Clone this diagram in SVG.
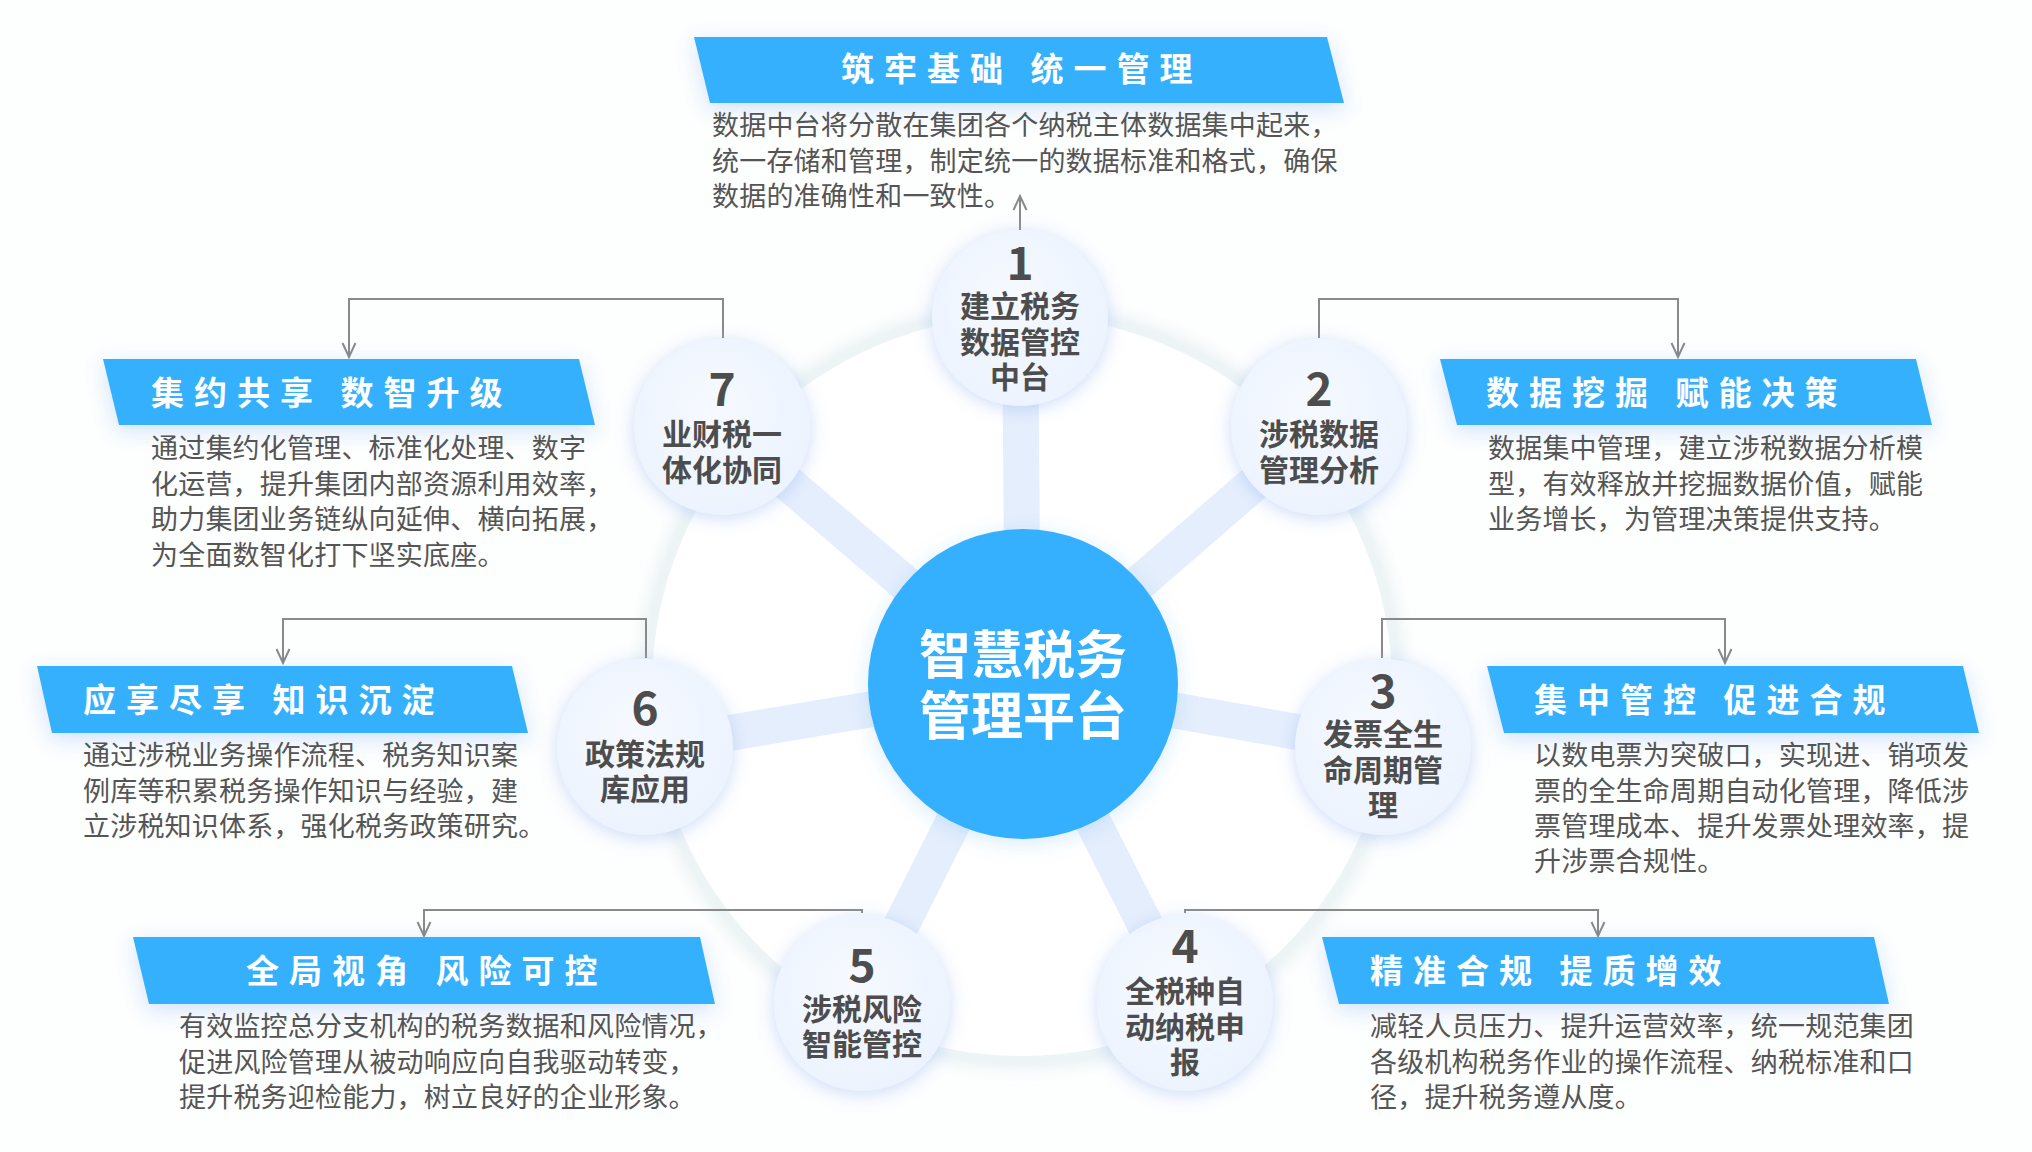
<svg xmlns="http://www.w3.org/2000/svg" width="2032" height="1152" viewBox="0 0 2032 1152">
<defs>
<style>
text{font-family:"Noto Sans CJK SC","Noto Sans",sans-serif;}
.ttl{font-size:33px;font-weight:700;fill:#ffffff;letter-spacing:10px;}
.dsc{font-size:27px;fill:#555555;letter-spacing:0.2px;}
.num{font-size:46px;font-weight:700;fill:#4d4d4d;text-anchor:middle;}
.lbl{font-size:30px;font-weight:700;fill:#4d4d4d;text-anchor:middle;}
.ctr{font-size:52px;font-weight:700;fill:#ffffff;text-anchor:middle;}
.ban{fill:#36b0fd;filter:url(#banShadow);}
.nd{fill:url(#nodeGrad);filter:url(#nodeShadow);}
.spk{stroke:#e5eefc;stroke-width:36;}
.con{fill:none;stroke:#8a8a8a;stroke-width:2;marker-end:url(#arr);}
</style>
<marker id="arr" viewBox="-16 -8 18 16" refX="0" refY="0" markerWidth="18" markerHeight="16" orient="auto" markerUnits="userSpaceOnUse">
<path d="M-14,-6.5 L0,0 L-14,6.5" fill="none" stroke="#8a8a8a" stroke-width="2"/>
</marker>
<radialGradient id="nodeGrad" cx="0.45" cy="0.4" r="0.65">
<stop offset="0" stop-color="#f6f9ff"/>
<stop offset="1" stop-color="#ebf3fe"/>
</radialGradient>
<filter id="nodeShadow" x="-40%" y="-40%" width="180%" height="180%">
<feDropShadow dx="0" dy="3" stdDeviation="9" flood-color="#8fb2f2" flood-opacity="0.45"/>
</filter>
<filter id="banShadow" x="-20%" y="-60%" width="140%" height="240%">
<feDropShadow dx="0" dy="6" stdDeviation="10" flood-color="#3a7ff0" flood-opacity="0.22"/>
</filter>
<filter id="ringBlur" x="-20%" y="-20%" width="140%" height="140%">
<feGaussianBlur stdDeviation="8"/>
</filter>
<filter id="ctrShadow" x="-30%" y="-30%" width="160%" height="160%">
<feDropShadow dx="0" dy="4" stdDeviation="10" flood-color="#3a9cf0" flood-opacity="0.2"/>
</filter>
</defs>

<rect x="0" y="0" width="2032" height="1152" fill="#fdfefe"/>

<g id="ring">
<circle cx="1022" cy="686" r="374" fill="none" stroke="#e3eef0" stroke-width="14" filter="url(#ringBlur)"/>
<circle cx="1022" cy="686" r="370" fill="#ffffff"/>
</g>

<g id="spokes">
<line class="spk" x1="1023" y1="684" x2="1020" y2="318"/>
<line class="spk" x1="1023" y1="684" x2="1319" y2="427"/>
<line class="spk" x1="1023" y1="684" x2="1383" y2="747"/>
<line class="spk" x1="1023" y1="684" x2="1185" y2="1003"/>
<line class="spk" x1="1023" y1="684" x2="862" y2="1003"/>
<line class="spk" x1="1023" y1="684" x2="645" y2="747"/>
<line class="spk" x1="1023" y1="684" x2="722" y2="427"/>
</g>

<g id="connectors">
<path class="con" d="M1020,230 V196"/>
<path class="con" d="M1319,338 V299 H1678 V357"/>
<path class="con" d="M1382,658 V619 H1725 V663"/>
<path class="con" d="M1185,913 V910 H1598 V936"/>
<path class="con" d="M862,913 V910 H424 V936"/>
<path class="con" d="M646,658 V619 H283 V663"/>
<path class="con" d="M723,338 V299 H349 V357"/>
</g>

<g id="node-center">
<circle cx="1023" cy="684" r="155" fill="#35b0fe" filter="url(#ctrShadow)"/>
<text class="ctr" x="1023" y="674">智慧税务</text>
<text class="ctr" x="1023" y="735">管理平台</text>
</g>

<g id="node-1">
<circle class="nd" cx="1020" cy="318" r="88"/>
<text class="num" x="1020" y="280">1</text>
<text class="lbl" x="1020" y="317">建立税务</text>
<text class="lbl" x="1020" y="353">数据管控</text>
<text class="lbl" x="1020" y="388">中台</text>
</g>
<g id="node-2">
<circle class="nd" cx="1319" cy="427" r="88"/>
<text class="num" x="1319" y="406">2</text>
<text class="lbl" x="1319" y="445">涉税数据</text>
<text class="lbl" x="1319" y="481">管理分析</text>
</g>
<g id="node-3">
<circle class="nd" cx="1383" cy="747" r="88"/>
<text class="num" x="1383" y="708">3</text>
<text class="lbl" x="1383" y="745">发票全生</text>
<text class="lbl" x="1383" y="781">命周期管</text>
<text class="lbl" x="1383" y="816">理</text>
</g>
<g id="node-4">
<circle class="nd" cx="1185" cy="1003" r="88"/>
<text class="num" x="1185" y="963">4</text>
<text class="lbl" x="1185" y="1002">全税种自</text>
<text class="lbl" x="1185" y="1038">动纳税申</text>
<text class="lbl" x="1185" y="1073">报</text>
</g>
<g id="node-5">
<circle class="nd" cx="862" cy="1003" r="88"/>
<text class="num" x="862" y="982">5</text>
<text class="lbl" x="862" y="1020">涉税风险</text>
<text class="lbl" x="862" y="1055">智能管控</text>
</g>
<g id="node-6">
<circle class="nd" cx="645" cy="747" r="88"/>
<text class="num" x="645" y="725">6</text>
<text class="lbl" x="645" y="765">政策法规</text>
<text class="lbl" x="645" y="800">库应用</text>
</g>
<g id="node-7">
<circle class="nd" cx="722" cy="427" r="88"/>
<text class="num" x="722" y="406">7</text>
<text class="lbl" x="722" y="445">业财税一</text>
<text class="lbl" x="722" y="481">体化协同</text>
</g>

<g id="card-1">
<polygon class="ban" points="694,37 1327,37 1344,103 710,103"/>
<text class="ttl" x="841" y="81">筑牢基础 统一管理</text>
<text class="dsc" x="712" y="135">数据中台将分散在集团各个纳税主体数据集中起来，</text>
<text class="dsc" x="712" y="171">统一存储和管理，制定统一的数据标准和格式，确保</text>
<text class="dsc" x="712" y="206">数据的准确性和一致性。</text>
</g>
<g id="card-2">
<polygon class="ban" points="1440,359 1916,359 1932,425 1457,425"/>
<text class="ttl" x="1486" y="405">数据挖掘 赋能决策</text>
<text class="dsc" x="1488" y="458">数据集中管理，建立涉税数据分析模</text>
<text class="dsc" x="1488" y="494">型，有效释放并挖掘数据价值，赋能</text>
<text class="dsc" x="1488" y="529">业务增长，为管理决策提供支持。</text>
</g>
<g id="card-3">
<polygon class="ban" points="1487,666 1963,666 1979,733 1504,733"/>
<text class="ttl" x="1534" y="712">集中管控 促进合规</text>
<text class="dsc" x="1534" y="765">以数电票为突破口，实现进、销项发</text>
<text class="dsc" x="1534" y="801">票的全生命周期自动化管理，降低涉</text>
<text class="dsc" x="1534" y="836">票管理成本、提升发票处理效率，提</text>
<text class="dsc" x="1534" y="871">升涉票合规性。</text>
</g>
<g id="card-4">
<polygon class="ban" points="1322,937 1874,937 1889,1004 1339,1004"/>
<text class="ttl" x="1370" y="983">精准合规 提质增效</text>
<text class="dsc" x="1370" y="1036">减轻人员压力、提升运营效率，统一规范集团</text>
<text class="dsc" x="1370" y="1072">各级机构税务作业的操作流程、纳税标准和口</text>
<text class="dsc" x="1370" y="1107">径，提升税务遵从度。</text>
</g>
<g id="card-5">
<polygon class="ban" points="133,937 700,937 715,1004 149,1004"/>
<text class="ttl" x="246" y="983">全局视角 风险可控</text>
<text class="dsc" x="179" y="1036">有效监控总分支机构的税务数据和风险情况，</text>
<text class="dsc" x="179" y="1072">促进风险管理从被动响应向自我驱动转变，</text>
<text class="dsc" x="179" y="1107">提升税务迎检能力，树立良好的企业形象。</text>
</g>
<g id="card-6">
<polygon class="ban" points="37,666 512,666 528,733 52,733"/>
<text class="ttl" x="83" y="712">应享尽享 知识沉淀</text>
<text class="dsc" x="83" y="765">通过涉税业务操作流程、税务知识案</text>
<text class="dsc" x="83" y="801">例库等积累税务操作知识与经验，建</text>
<text class="dsc" x="83" y="836">立涉税知识体系，强化税务政策研究。</text>
</g>
<g id="card-7">
<polygon class="ban" points="103,359 579,359 595,425 119,425"/>
<text class="ttl" x="151" y="405">集约共享 数智升级</text>
<text class="dsc" x="151" y="458">通过集约化管理、标准化处理、数字</text>
<text class="dsc" x="151" y="494">化运营，提升集团内部资源利用效率，</text>
<text class="dsc" x="151" y="529">助力集团业务链纵向延伸、横向拓展，</text>
<text class="dsc" x="151" y="565">为全面数智化打下坚实底座。</text>
</g>
</svg>
